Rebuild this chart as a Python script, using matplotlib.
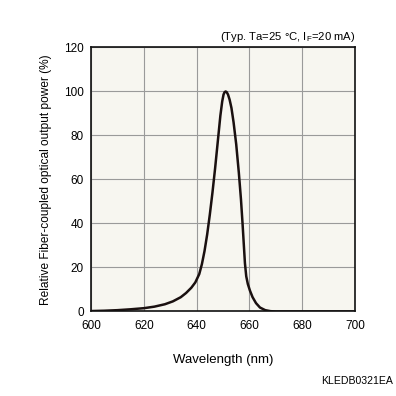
import matplotlib
matplotlib.use('Agg')
import matplotlib.pyplot as plt

plt.rcParams['font.family'] = ['Liberation Sans', 'DejaVu Sans']
plt.rcParams['mathtext.default'] = 'regular'

# spectrum
wavelength = [600, 605, 610, 615, 620, 624, 628, 631, 634, 636, 638, 639.5,
              641, 642, 643, 644, 645, 646, 647, 648, 649, 649.7, 650.2, 650.6,
              651, 651.4, 651.9, 652.5, 653.2, 654, 655, 656, 656.8, 657.4,
              657.9, 658.3, 658.8, 659.4, 660.2, 661.2, 662.5, 664, 666, 668,
              670, 680, 700]
power = [0.2, 0.35, 0.6, 1.0, 1.5, 2.2, 3.3, 4.6, 6.5, 8.4, 10.8, 13.2,
         17, 21.5, 27.5, 35, 44, 54, 65, 77, 89, 95.5, 98.6, 99.7,
         100, 99.7, 98.6, 96.3, 92.5, 86, 76, 63, 51, 40,
         30, 22, 16, 12.5, 9.5, 6.5, 3.8, 1.8, 0.6, 0.15,
         0, 0, 0]

xticks = [600, 620, 640, 660, 680, 700]
yticks = [0, 20, 40, 60, 80, 100, 120]

fig = plt.figure(figsize=(3.96, 3.96), dpi=100)
ax = fig.add_axes([0.2298, 0.2134, 0.6667, 0.6667])
ax.set_facecolor('#f7f6f0')

ax.plot(wavelength, power, color='#1a1010', linewidth=1.8,
        solid_joinstyle='round', solid_capstyle='round')

ax.set_xlim(600, 700)
ax.set_ylim(0, 120)
ax.set_xticks(xticks)
ax.set_yticks(yticks)
ax.grid(True, color='#9a9a9a', linewidth=0.8)
ax.tick_params(length=0, labelsize=8.5)
ax.tick_params(axis='x', pad=6)
ax.tick_params(axis='y', pad=5)
for s in ax.spines.values():
    s.set_linewidth(1.2)
    s.set_color('#111111')

ax.set_xlabel('Wavelength (nm)', fontsize=9.5, labelpad=16)
ax.set_ylabel('Relative Fiber-coupled optical output power (%)', fontsize=8.6, labelpad=9)

ax.text(1.0, 1.015, '(Typ. Ta=25 °C, I$_F$=20 mA)', transform=ax.transAxes,
        ha='right', va='bottom', fontsize=8.1)
fig.text(0.992, 0.025, 'KLEDB0321EA', ha='right', va='bottom', fontsize=7.6)

fig.savefig('out.png', dpi=100, facecolor='white')
